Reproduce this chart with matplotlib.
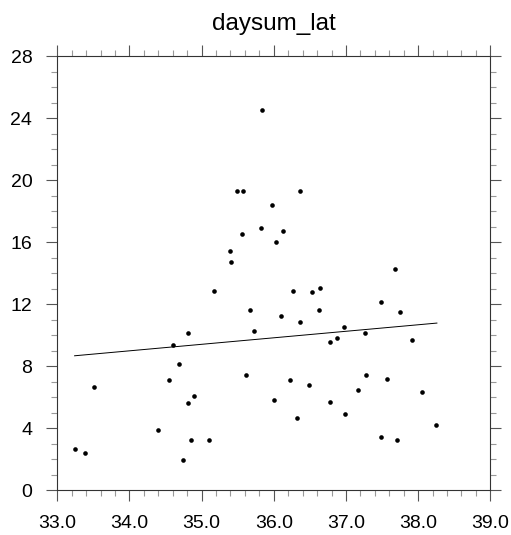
import matplotlib.pyplot as plt
import numpy as np
from matplotlib.ticker import MultipleLocator, FormatStrFormatter

# points (lat vs daysum)
lat = [33.24, 33.38, 33.51, 34.39, 34.55, 34.61, 34.68, 34.81, 34.89, 34.81,
       34.85, 34.74, 35.83, 35.49, 35.57, 36.36, 35.98, 35.82, 36.13, 35.56,
       36.03, 35.40, 35.41, 35.17, 36.27, 36.53, 36.64, 35.67, 36.63, 36.10,
       36.37, 35.73, 36.97, 36.88, 36.78, 35.61, 36.22, 36.49, 36.00, 36.78,
       36.99, 36.32, 35.10, 37.68, 37.49, 37.75, 37.27, 37.91, 37.28, 37.57,
       37.16, 38.06, 38.25, 37.48, 37.71]
daysum = [2.64, 2.37, 6.63, 3.85, 7.10, 9.38, 8.11, 10.15, 6.08, 5.61,
          3.20, 1.94, 24.5, 19.31, 19.31, 19.29, 18.41, 16.92, 16.69, 16.54,
          16.0, 15.44, 14.73, 12.86, 12.86, 12.77, 13.01, 11.59, 11.61, 11.20,
          10.86, 10.28, 10.54, 9.81, 9.53, 7.40, 7.12, 6.75, 5.81, 5.68,
          4.92, 4.65, 3.23, 14.26, 12.13, 11.46, 10.15, 9.70, 7.42, 7.18,
          6.45, 6.32, 4.17, 3.40, 3.23]

# regression line ends as drawn
reg_x = [33.24, 38.26]
reg_y = [8.66, 10.77]

plt.rcParams['font.family'] = 'Liberation Sans'

fig = plt.figure(figsize=(5.11, 5.35), dpi=100)
ax = fig.add_axes([0.1121, 0.0841, 0.8474, 0.8112])

ax.scatter(lat, daysum, s=11, c='black', linewidths=0, zorder=3)
ax.plot(reg_x, reg_y, color='black', lw=0.7)

ax.set_xlim(33, 39)
ax.set_ylim(0, 28)
ax.xaxis.set_major_locator(MultipleLocator(1.0))
ax.xaxis.set_minor_locator(MultipleLocator(0.2))
ax.yaxis.set_major_locator(MultipleLocator(4))
ax.yaxis.set_minor_locator(MultipleLocator(1))
ax.xaxis.set_major_formatter(FormatStrFormatter('%.1f'))

ax.tick_params(which='both', direction='out', top=True, right=True,
               color='#555555', width=0.8, labelsize=14)
ax.tick_params(which='major', length=8, pad=10)
ax.tick_params(which='minor', length=4, color='#999999')
for s in ax.spines.values():
    s.set_linewidth(0.8)
    s.set_color('#333333')

ax.set_title('daysum_lat', fontsize=17.5, pad=19)

plt.savefig('out.png', dpi=100)
